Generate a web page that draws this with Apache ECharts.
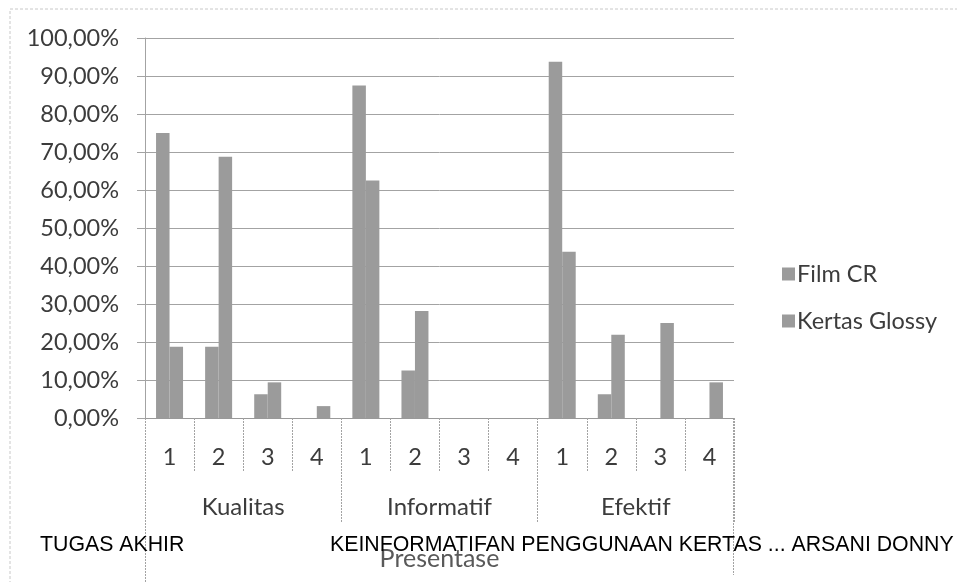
<!DOCTYPE html>
<html>
<head>
<meta charset="utf-8">
<script src="https://cdn.jsdelivr.net/npm/echarts@6/dist/echarts.min.js"></script>
<style>
html,body{margin:0;padding:0;background:#fff;}
#chart{width:957px;height:582px;}
</style>
</head>
<body>
<div id="chart"></div>
<script>
// ---- data ----
const groups = ['Kualitas', 'Informatif', 'Efektif'];
const subLabels = ['1', '2', '3', '4'];
const seriesNames = ['Film CR', 'Kertas Glossy'];
const filmCR = [0.75, 0.1875, 0.0625, 0, 0.875, 0.125, 0, 0, 0.9375, 0.0625, 0, 0];
const kertasGlossy = [0.1875, 0.6875, 0.0938, 0.0313, 0.625, 0.2813, 0, 0, 0.4375, 0.2188, 0.25, 0.0938];
const yTicks = [0, 0.1, 0.2, 0.3, 0.4, 0.5, 0.6, 0.7, 0.8, 0.9, 1.0];
const axisTitle = 'Presentase';
const footerLeft = 'TUGAS AKHIR';
const footerRight = 'KEINFORMATIFAN PENGGUNAAN KERTAS ... ARSANI DONNY';

// ---- build ----
const categories = [];
groups.forEach(g => subLabels.forEach(s => categories.push(g + '|' + s)));

const FONT = 'Lato';
const TXT = '#3c3c3c';
const BAR = '#9b9b9b';
const LINE = '#a3a3a3';

const chart = echarts.init(document.getElementById('chart'));
const grid = {left: 145, right: 223, top: 38, bottom: 164};

chart.setOption({
  animation: false,
  backgroundColor: '#fff',
  textStyle: {fontFamily: FONT},
  grid: grid,
  legend: {
    orient: 'vertical',
    left: 777,
    top: 257,
    itemWidth: 13,
    itemHeight: 13,
    itemGap: 23,
    icon: 'rect',
    data: seriesNames,
    textStyle: {fontFamily: FONT, fontSize: 23.5, color: TXT, padding: [0, 0, 0, -3]}
  },
  xAxis: [
    {
      type: 'category',
      data: categories,
      axisLine: {show: true, lineStyle: {color: '#999', width: 1}},
      axisTick: {show: true, interval: 0, length: 54, lineStyle: {color: LINE, type: [2, 1]}},
      axisLabel: {
        interval: 0, margin: 27, fontFamily: FONT, fontSize: 23.5, color: TXT,
        formatter: v => v.split('|')[1]
      }
    },
    {
      type: 'category',
      data: groups,
      position: 'bottom',
      axisLine: {show: false},
      axisTick: {show: true, interval: 0, length: 105, lineStyle: {color: LINE, type: [2, 1]}},
      axisLabel: {interval: 0, margin: 77, fontFamily: FONT, fontSize: 24, color: TXT},
      name: axisTitle,
      nameLocation: 'middle',
      nameGap: 128,
      nameTextStyle: {fontFamily: FONT, fontSize: 25, color: '#595959'}
    }
  ],
  yAxis: {
    type: 'value',
    min: yTicks[0],
    max: yTicks[yTicks.length - 1],
    interval: yTicks[1] - yTicks[0],
    axisLine: {show: true, lineStyle: {color: LINE, width: 1}},
    axisTick: {show: true, length: 8, lineStyle: {color: LINE}},
    splitLine: {show: true, lineStyle: {color: LINE, width: 1}},
    axisLabel: {
      margin: 26, fontFamily: FONT, fontSize: 23.5, color: TXT,
      formatter: v => (v * 100).toFixed(2).replace('.', ',') + '%'
    }
  },
  series: [
    {name: seriesNames[0], type: 'bar', data: filmCR, barGap: '0%', barCategoryGap: '45%',
     itemStyle: {color: BAR}},
    {name: seriesNames[1], type: 'bar', data: kertasGlossy, barGap: '0%', barCategoryGap: '45%',
     itemStyle: {color: BAR}}
  ]
});

// decorative frame lines derived from the grid
const p0 = chart.convertToPixel({xAxisIndex: 0, yAxisIndex: 0}, [0, 0]);
const W = chart.getWidth();
const xl = grid.left, xr = W - grid.right, yb = p0[1];
chart.setOption({
  graphic: [
    {type: 'rect', shape: {x: 10, y: 9, width: 1200, height: 1200}, silent: true,
     style: {fill: 'none', stroke: '#c8c8c8', lineWidth: 1, lineDash: [3, 2]}},
    {type: 'line', shape: {x1: xl + 0.5, y1: yb, x2: xl + 0.5, y2: 582}, silent: true,
     style: {stroke: LINE, lineWidth: 1, lineDash: [2, 1]}},
    {type: 'line', shape: {x1: xr - 0.5, y1: yb, x2: xr - 0.5, y2: 575}, silent: true,
     style: {stroke: LINE, lineWidth: 1, lineDash: [2, 1]}},
    {type: 'text', left: 40, top: 535, silent: true, z: 100,
     style: {text: footerLeft, font: '21.3px "Liberation Sans", Arial, sans-serif', fill: '#000'}},
    {type: 'text', left: 330, top: 535, silent: true, z: 100,
     style: {text: footerRight, font: '21.3px "Liberation Sans", Arial, sans-serif', fill: '#000'}}
  ]
});
</script>
</body>
</html>
